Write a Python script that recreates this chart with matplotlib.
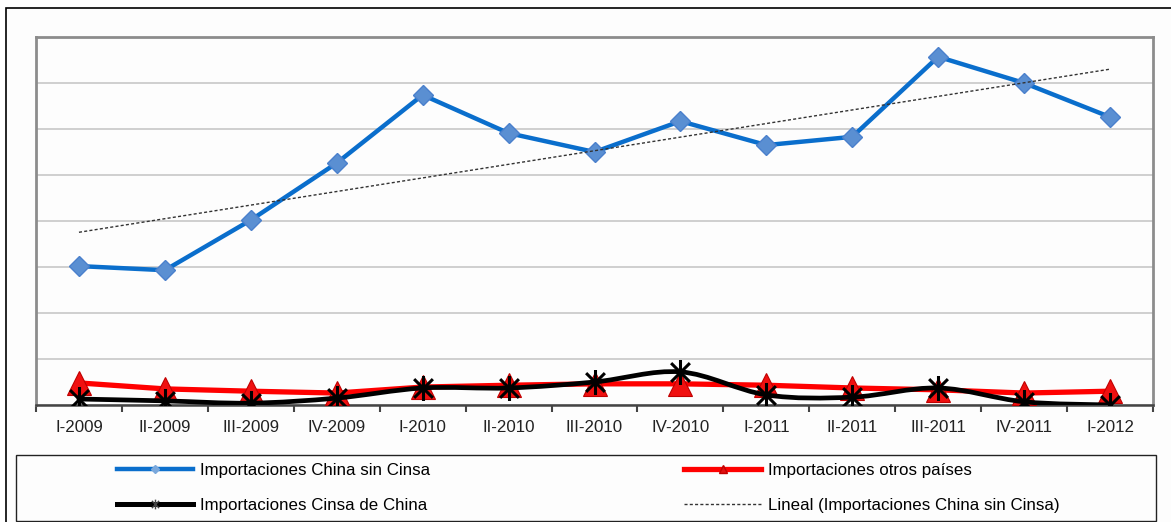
import numpy as np
import matplotlib
matplotlib.use("Agg")
import matplotlib.pyplot as plt
from matplotlib.path import Path
from matplotlib.patches import PathPatch, Rectangle
from matplotlib.lines import Line2D

plt.rcParams['font.family'] = ['Liberation Sans', 'DejaVu Sans']

categories = ["I-2009", "II-2009", "III-2009", "IV-2009", "I-2010", "II-2010",
              "III-2010", "IV-2010", "I-2011", "II-2011", "III-2011", "IV-2011", "I-2012"]
china_sin_cinsa = [30.2, 29.3, 40.2, 52.6, 67.4, 59.1, 55.0, 61.7, 56.5, 58.3, 75.7, 70.0, 62.6]
otros_paises = [4.8, 3.5, 3.0, 2.6, 3.9, 4.3, 4.6, 4.6, 4.3, 3.7, 3.3, 2.6, 3.0]
cinsa_de_china = [1.3, 0.9, 0.4, 1.5, 3.7, 3.7, 5.0, 7.2, 2.2, 1.7, 3.7, 0.7, 0.0]
labels = ["Importaciones China sin Cinsa", "Importaciones Cinsa de China",
          "Importaciones otros países", "Lineal (Importaciones China sin Cinsa)"]

W, H = 1171, 522
fig = plt.figure(figsize=(W / 100, H / 100), dpi=100)
fig.patch.set_facecolor('white')

# outer chart frame (extends beyond the right/bottom edges)
fig.add_artist(Rectangle((6 / W, -0.1), 1.2, 1 - 8 / H + 0.1, transform=fig.transFigure,
                         fill=True, facecolor='#FDFDFD', edgecolor='black', lw=1.2, zorder=0))
# legend frame
fig.add_artist(Rectangle((16 / W, 1 - 521 / H), (1156 - 16) / W, (521 - 455) / H,
                         transform=fig.transFigure, fill=False, edgecolor='#222222', lw=1.0, zorder=1))

ax = fig.add_axes([36 / W, 1 - 405 / H, (1153 - 36) / W, (405 - 37) / H])
ax.set_facecolor('#FDFDFD')
x = np.arange(len(categories))

ax.set_xlim(-0.5, len(categories) - 0.5)
ax.set_ylim(0, 80)
ax.set_yticks(np.arange(0, 81, 10))
ax.yaxis.grid(True, color='#C8C8C8', lw=1.2)
ax.set_axisbelow(True)
ax.tick_params(axis='y', left=False, labelleft=False)

ax.set_xticks(x)
ax.set_xticklabels(categories, fontsize=12.2, color='#222222')
ax.set_xticks(np.arange(-0.5, len(categories), 1), minor=True)
ax.tick_params(axis='x', which='major', length=0, pad=11)
ax.tick_params(axis='x', which='minor', length=5, width=1.5, color='#444444', direction='out')
for s in ['left', 'top', 'right']:
    ax.spines[s].set_color('#8C8C8C')
    ax.spines[s].set_linewidth(2)
ax.spines['bottom'].set_color('#444444')
ax.spines['bottom'].set_linewidth(1.8)

# Blue series
ax.plot(x, china_sin_cinsa, color='#0A6ECC', lw=3.2, marker='D', ms=10.5,
        mfc='#5A8FD2', mec='#4A80CC', mew=1, zorder=3)

# Red series
ax.plot(x, otros_paises, color='#FF0000', lw=3.8, marker='^', ms=17,
        mfc='#F01010', mec='#C00000', mew=0.8, zorder=4)

# Black smoothed series (Catmull-Rom style Bezier as in spreadsheet smoothing)
pts = np.column_stack([x, cinsa_de_china]).astype(float)
ext = np.vstack([pts[0], pts, pts[-1]])
verts = [tuple(pts[0])]
codes = [Path.MOVETO]
for i in range(len(pts) - 1):
    p0, p1, p2, p3 = ext[i], ext[i + 1], ext[i + 2], ext[i + 3]
    c1 = p1 + (p2 - p0) / 6.0
    c2 = p2 - (p3 - p1) / 6.0
    verts += [tuple(c1), tuple(c2), tuple(p2)]
    codes += [Path.CURVE4] * 3
ax.add_patch(PathPatch(Path(verts, codes), fill=False, edgecolor='black', lw=3.4,
                       zorder=5, capstyle='round', joinstyle='round'))

ast = Path([(0, -1), (0, 1), (-0.75, -0.75), (0.75, 0.75), (-0.75, 0.75), (0.75, -0.75)],
           [Path.MOVETO, Path.LINETO, Path.MOVETO, Path.LINETO, Path.MOVETO, Path.LINETO])
ax.plot(x, cinsa_de_china, ls='none', marker=ast, ms=18, mec='black', mew=2.2, zorder=6)

# Linear trend
coef = np.polyfit(x, china_sin_cinsa, 1)
ax.plot(x, np.polyval(coef, x), color='#333333', lw=1.0, ls=(0, (2.2, 1.6)), zorder=7)

handles = [
    Line2D([], [], color='#0A6ECC', lw=3.2, marker='D', ms=4, mfc='#7AA8DC', mec='#7AA8DC'),
    Line2D([], [], color='black', lw=3.6, marker=ast, ms=7, mec='#444444', mew=1),
    Line2D([], [], color='#FF0000', lw=3.8, marker='^', ms=6, mfc='#E01010', mec='#C00000'),
    Line2D([], [], color='#333333', lw=1.0, ls=(0, (2.2, 1.6))),
]
fig.legend(handles, labels, ncol=2, loc='upper left',
           bbox_to_anchor=(117 / W, 1 - 463 / H), bbox_transform=fig.transFigure,
           frameon=False, fontsize=12.2, handlelength=4.5, handletextpad=0.41,
           columnspacing=15.0, labelspacing=1.2, borderpad=0, borderaxespad=0)

fig.savefig('out.png', dpi=100, facecolor='white')
